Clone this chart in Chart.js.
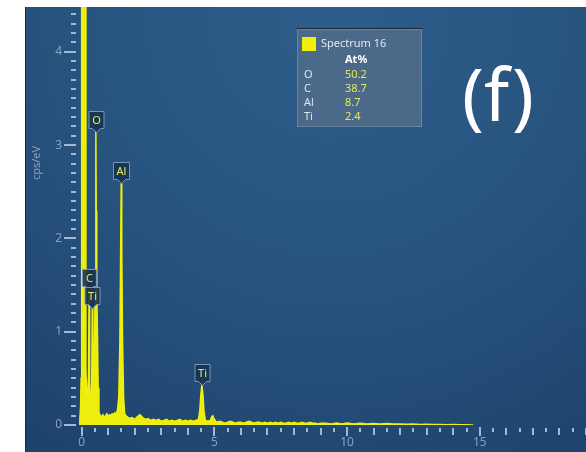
<!DOCTYPE html>
<html>
<head>
<meta charset="utf-8">
<title>EDS spectrum</title>
<script src="https://cdn.jsdelivr.net/npm/chart.js@4.4.1/dist/chart.umd.min.js"></script>
<style>
  html, body { margin: 0; padding: 0; background: #fff; }
  #wrap { width: 586px; height: 452px; }
</style>
</head>
<body>
<div id="wrap"><canvas id="spectrum" width="586" height="452"></canvas></div>
<script>
// Spectrum 16 - energy (keV) against intensity (cps/eV)
const energy = [
  -0.10, -0.07, -0.04, -0.02, 0.00, 0.03, 0.10, 0.14, 0.16, 0.19,
  0.23, 0.26, 0.28, 0.30, 0.33, 0.36, 0.38, 0.40, 0.42, 0.45,
  0.48, 0.51, 0.53, 0.54, 0.55, 0.57, 0.60, 0.62, 0.65,
  0.70, 0.75, 0.80, 0.85, 0.90, 0.95, 1.00, 1.05, 1.10, 1.15, 1.20, 1.25, 1.30, 1.35,
  1.40, 1.44, 1.47, 1.49, 1.51, 1.54, 1.58, 1.62,
  1.70, 1.80, 1.90, 2.00, 2.10, 2.20, 2.30, 2.40, 2.50, 2.60,
  2.70, 2.80, 2.90, 3.00, 3.10, 3.20, 3.30, 3.40, 3.50, 3.60,
  3.70, 3.80, 3.90, 4.00, 4.10, 4.20, 4.30, 4.40,
  4.45, 4.49, 4.53, 4.57, 4.61, 4.66, 4.75, 4.85, 4.90, 4.94, 4.98, 5.05,
  5.1, 5.2, 5.3, 5.4, 5.5, 5.6, 5.7, 5.8, 5.9, 6.0,
  6.1, 6.2, 6.3, 6.4, 6.5, 6.6, 6.7, 6.8, 6.9, 7.0,
  7.1, 7.2, 7.3, 7.4, 7.5, 7.6, 7.7, 7.8, 7.9, 8.0,
  8.1, 8.2, 8.3, 8.4, 8.5, 8.6, 8.7, 8.8, 8.9, 9.0,
  9.2, 9.4, 9.6, 9.8, 10.0,
  10.25, 10.5, 10.75, 11.0, 11.25, 11.5, 11.75, 12.0, 12.25, 12.5,
  12.75, 13.0, 13.25, 13.5, 13.75, 14.0, 14.25, 14.5, 14.75
];
const counts = [
  0.00, 0.05, 0.20, 0.50, 12.0, 40.0, 40.0, 12.0, 0.60, 0.34,
  0.31, 0.55, 1.45, 0.48, 0.30, 0.33, 0.52, 1.25, 0.50, 0.42,
  0.90, 1.40, 2.30, 3.14, 2.30, 1.40, 0.90, 0.40, 0.14,
  0.10, 0.09, 0.11, 0.08, 0.10, 0.12, 0.09, 0.11, 0.10, 0.12, 0.11, 0.13, 0.12, 0.16,
  0.30, 0.90, 1.90, 2.59, 1.90, 0.90, 0.30, 0.12,
  0.09, 0.07, 0.08, 0.06, 0.09, 0.11, 0.08, 0.06, 0.07, 0.05,
  0.06, 0.05, 0.06, 0.04, 0.05, 0.06, 0.04, 0.05, 0.04, 0.05,
  0.06, 0.04, 0.05, 0.04, 0.05, 0.04, 0.05, 0.06,
  0.15, 0.32, 0.43, 0.32, 0.14, 0.05, 0.04, 0.05, 0.09, 0.10, 0.07, 0.04,
  0.03, 0.04, 0.03, 0.02, 0.03, 0.04, 0.03, 0.02, 0.03, 0.03,
  0.02, 0.03, 0.04, 0.03, 0.02, 0.03, 0.03, 0.02, 0.03, 0.02,
  0.03, 0.02, 0.03, 0.02, 0.03, 0.02, 0.02, 0.03, 0.02, 0.03,
  0.02, 0.02, 0.03, 0.02, 0.02, 0.03, 0.02, 0.02, 0.01, 0.02,
  0.02, 0.01, 0.02, 0.01, 0.02,
  0.010, 0.020, 0.010, 0.015, 0.010, 0.015, 0.010, 0.010, 0.008, 0.010,
  0.005, 0.008, 0.005, 0.006, 0.004, 0.005, 0.003, 0.004, 0.000
];

// identified lines
const peakNames = ['C', 'Ti', 'O', 'Al', 'Ti'];
const peakEnergy = [0.28, 0.40, 0.54, 1.49, 4.53];

// quantification result
const spectrumName = 'Spectrum 16';
const elements = ['O', 'C', 'Al', 'Ti'];
const atPercent = [50.2, 38.7, 8.7, 2.4];

// axis labels
const xLabelValues = [0, 5, 10, 15];
const yLabelValues = [0, 1, 2, 3, 4];
const yTitle = 'cps/eV';
const panelTag = '(f)';

const FONT = '"Noto Sans", "DejaVu Sans", sans-serif';
const YELLOW = '#f0f00c';

const isWhole = v => Math.abs(v - Math.round(v)) < 1e-6;
const labelFor = list => v => {
  const hit = list.find(t => Math.abs(v - t) < 1e-6);
  return hit === undefined ? '' : String(hit);
};

// highest point of the spectrum close to a line energy
function peakTop(e) {
  let best = 0;
  energy.forEach((x, i) => {
    if (Math.abs(x - e) < 0.025 && counts[i] > best) best = counts[i];
  });
  return best;
}

const panelBackground = {
  id: 'panelBackground',
  beforeDraw(chart) {
    const c = chart.ctx;
    c.save();
    c.fillStyle = '#ffffff';
    c.fillRect(0, 0, chart.width, chart.height);
    const g = c.createRadialGradient(330, 20, 10, 330, 20, 560);
    g.addColorStop(0, '#2e5d89');
    g.addColorStop(0.5, '#27527e');
    g.addColorStop(1, '#1c3f69');
    c.fillStyle = g;
    c.fillRect(26, 7, chart.width - 26, chart.height - 7);
    c.fillStyle = '#162a42';
    c.fillRect(25, 7, 1, chart.height - 7);
    c.restore();
  }
};

const axisMarks = {
  id: 'axisMarks',
  afterDraw(chart) {
    const { x, y } = chart.scales;
    const area = chart.chartArea;
    const c = chart.ctx;
    c.save();
    c.strokeStyle = '#a3b9d0';
    c.lineWidth = 2;
    c.beginPath();
    y.ticks.forEach(t => {
      const py = Math.round(y.getPixelForValue(t.value));
      const x1 = area.left - 3;
      c.moveTo(isWhole(t.value) ? x1 - 12 : x1 - 5, py);
      c.lineTo(x1, py);
    });
    x.ticks.forEach(t => {
      const px = Math.round(x.getPixelForValue(t.value));
      let len = isWhole(t.value) ? 7 : 4;
      if (isWhole(t.value / 5)) len = 9;
      const y0 = area.bottom + (len === 9 ? 2 : 3);
      c.moveTo(px, y0);
      c.lineTo(px, y0 + len);
    });
    c.stroke();

    // rotated axis title
    c.fillStyle = '#8aa2bd';
    c.font = '11px ' + FONT;
    c.textAlign = 'center';
    c.textBaseline = 'middle';
    c.translate(37, 163);
    c.rotate(-Math.PI / 2);
    c.fillText(yTitle, 0, 0);
    c.restore();
  }
};

const peakLabels = {
  id: 'peakLabels',
  afterDatasetsDraw(chart) {
    const { x, y } = chart.scales;
    const c = chart.ctx;
    c.save();
    c.font = '11px ' + FONT;
    c.textAlign = 'center';
    c.textBaseline = 'middle';
    peakNames.forEach((name, i) => {
      const px = Math.round(x.getPixelForValue(peakEnergy[i])) + 0.5;
      const py = Math.round(y.getPixelForValue(peakTop(peakEnergy[i]))) + 0.5;
      const w = Math.max(14, Math.round(c.measureText(name).width) + 6);
      const h = 17, tip = 4;
      const l = px - w / 2, r = px + w / 2, b = py - tip, t = b - h;
      c.beginPath();
      c.moveTo(l, t);
      c.lineTo(r, t);
      c.lineTo(r, b);
      c.lineTo(px + 4, b);
      c.lineTo(px, py);
      c.lineTo(px - 4, b);
      c.lineTo(l, b);
      c.closePath();
      c.fillStyle = 'rgba(24, 50, 82, 0.9)';
      c.fill();
      c.strokeStyle = '#7896b6';
      c.lineWidth = 1;
      c.stroke();
      c.fillStyle = '#e6ee48';
      c.fillText(name, px, t + h / 2 + 0.5);
    });
    c.restore();
  }
};

const quantTable = {
  id: 'quantTable',
  afterDraw(chart) {
    const c = chart.ctx;
    c.save();
    c.fillStyle = '#15263a';
    c.fillRect(297, 28, 126, 1);
    c.fillStyle = '#4b6a8a';
    c.fillRect(297, 29, 125, 98);
    c.strokeStyle = '#6784a1';
    c.lineWidth = 1;
    c.strokeRect(297.5, 29.5, 124, 97);

    c.fillStyle = YELLOW;
    c.fillRect(302, 37, 14, 14);

    c.textBaseline = 'middle';
    c.textAlign = 'left';
    c.font = '11px ' + FONT;
    c.fillStyle = '#e2e8ef';
    c.fillText(spectrumName, 321, 44);

    c.font = 'bold 11px ' + FONT;
    c.fillStyle = '#ffffff';
    c.fillText('At%', 345, 60);

    c.font = '11px ' + FONT;
    elements.forEach((el, i) => {
      const ry = 75 + i * 14;
      c.fillStyle = '#dde4ec';
      c.fillText(el, 304, ry);
      c.fillStyle = '#e2ea5c';
      c.fillText(atPercent[i].toFixed(1), 345, ry);
    });

    c.font = '73px ' + FONT;
    c.fillStyle = '#ffffff';
    c.textAlign = 'center';
    c.textBaseline = 'alphabetic';
    c.fillText(panelTag, 498, 121);
    c.restore();
  }
};

const ctx = document.getElementById('spectrum').getContext('2d');

new Chart(ctx, {
  type: 'line',
  data: {
    datasets: [
      {
        label: spectrumName,
        data: energy.map((e, i) => ({ x: e, y: counts[i] })),
        borderColor: YELLOW,
        backgroundColor: '#eded0e',
        borderWidth: 1.5,
        pointRadius: 0,
        fill: 'origin',
        tension: 0,
        clip: 0
      }
    ]
  },
  options: {
    responsive: false,
    animation: false,
    events: [],
    layout: { padding: { left: 26, top: 7, right: 0, bottom: 0 } },
    plugins: {
      legend: { display: false },
      tooltip: { enabled: false }
    },
    scales: {
      x: {
        type: 'linear',
        min: -0.1,
        max: 19,
        afterFit: s => { s.height = 27; },
        // tick marks are drawn by axisMarks; tickLength only spaces the labels
        grid: { display: false, drawTicks: true, tickLength: 12 },
        border: { display: false },
        ticks: {
          stepSize: 0.5,
          autoSkip: false,
          maxRotation: 0,
          includeBounds: false,
          padding: 0,
          color: '#8aa2bd',
          font: { size: 12, family: FONT, lineHeight: 1 },
          callback: labelFor(xLabelValues)
        }
      },
      y: {
        min: 0,
        max: 4.48,
        afterFit: s => { s.width = 53; },
        grid: { display: false, drawTicks: true, tickLength: 17 },
        border: { display: false },
        ticks: {
          stepSize: 0.1,
          autoSkip: false,
          includeBounds: false,
          padding: 0,
          color: '#8aa2bd',
          font: { size: 12, family: FONT, lineHeight: 1 },
          callback: labelFor(yLabelValues)
        }
      }
    }
  },
  plugins: [panelBackground, axisMarks, peakLabels, quantTable]
});
</script>
</body>
</html>
